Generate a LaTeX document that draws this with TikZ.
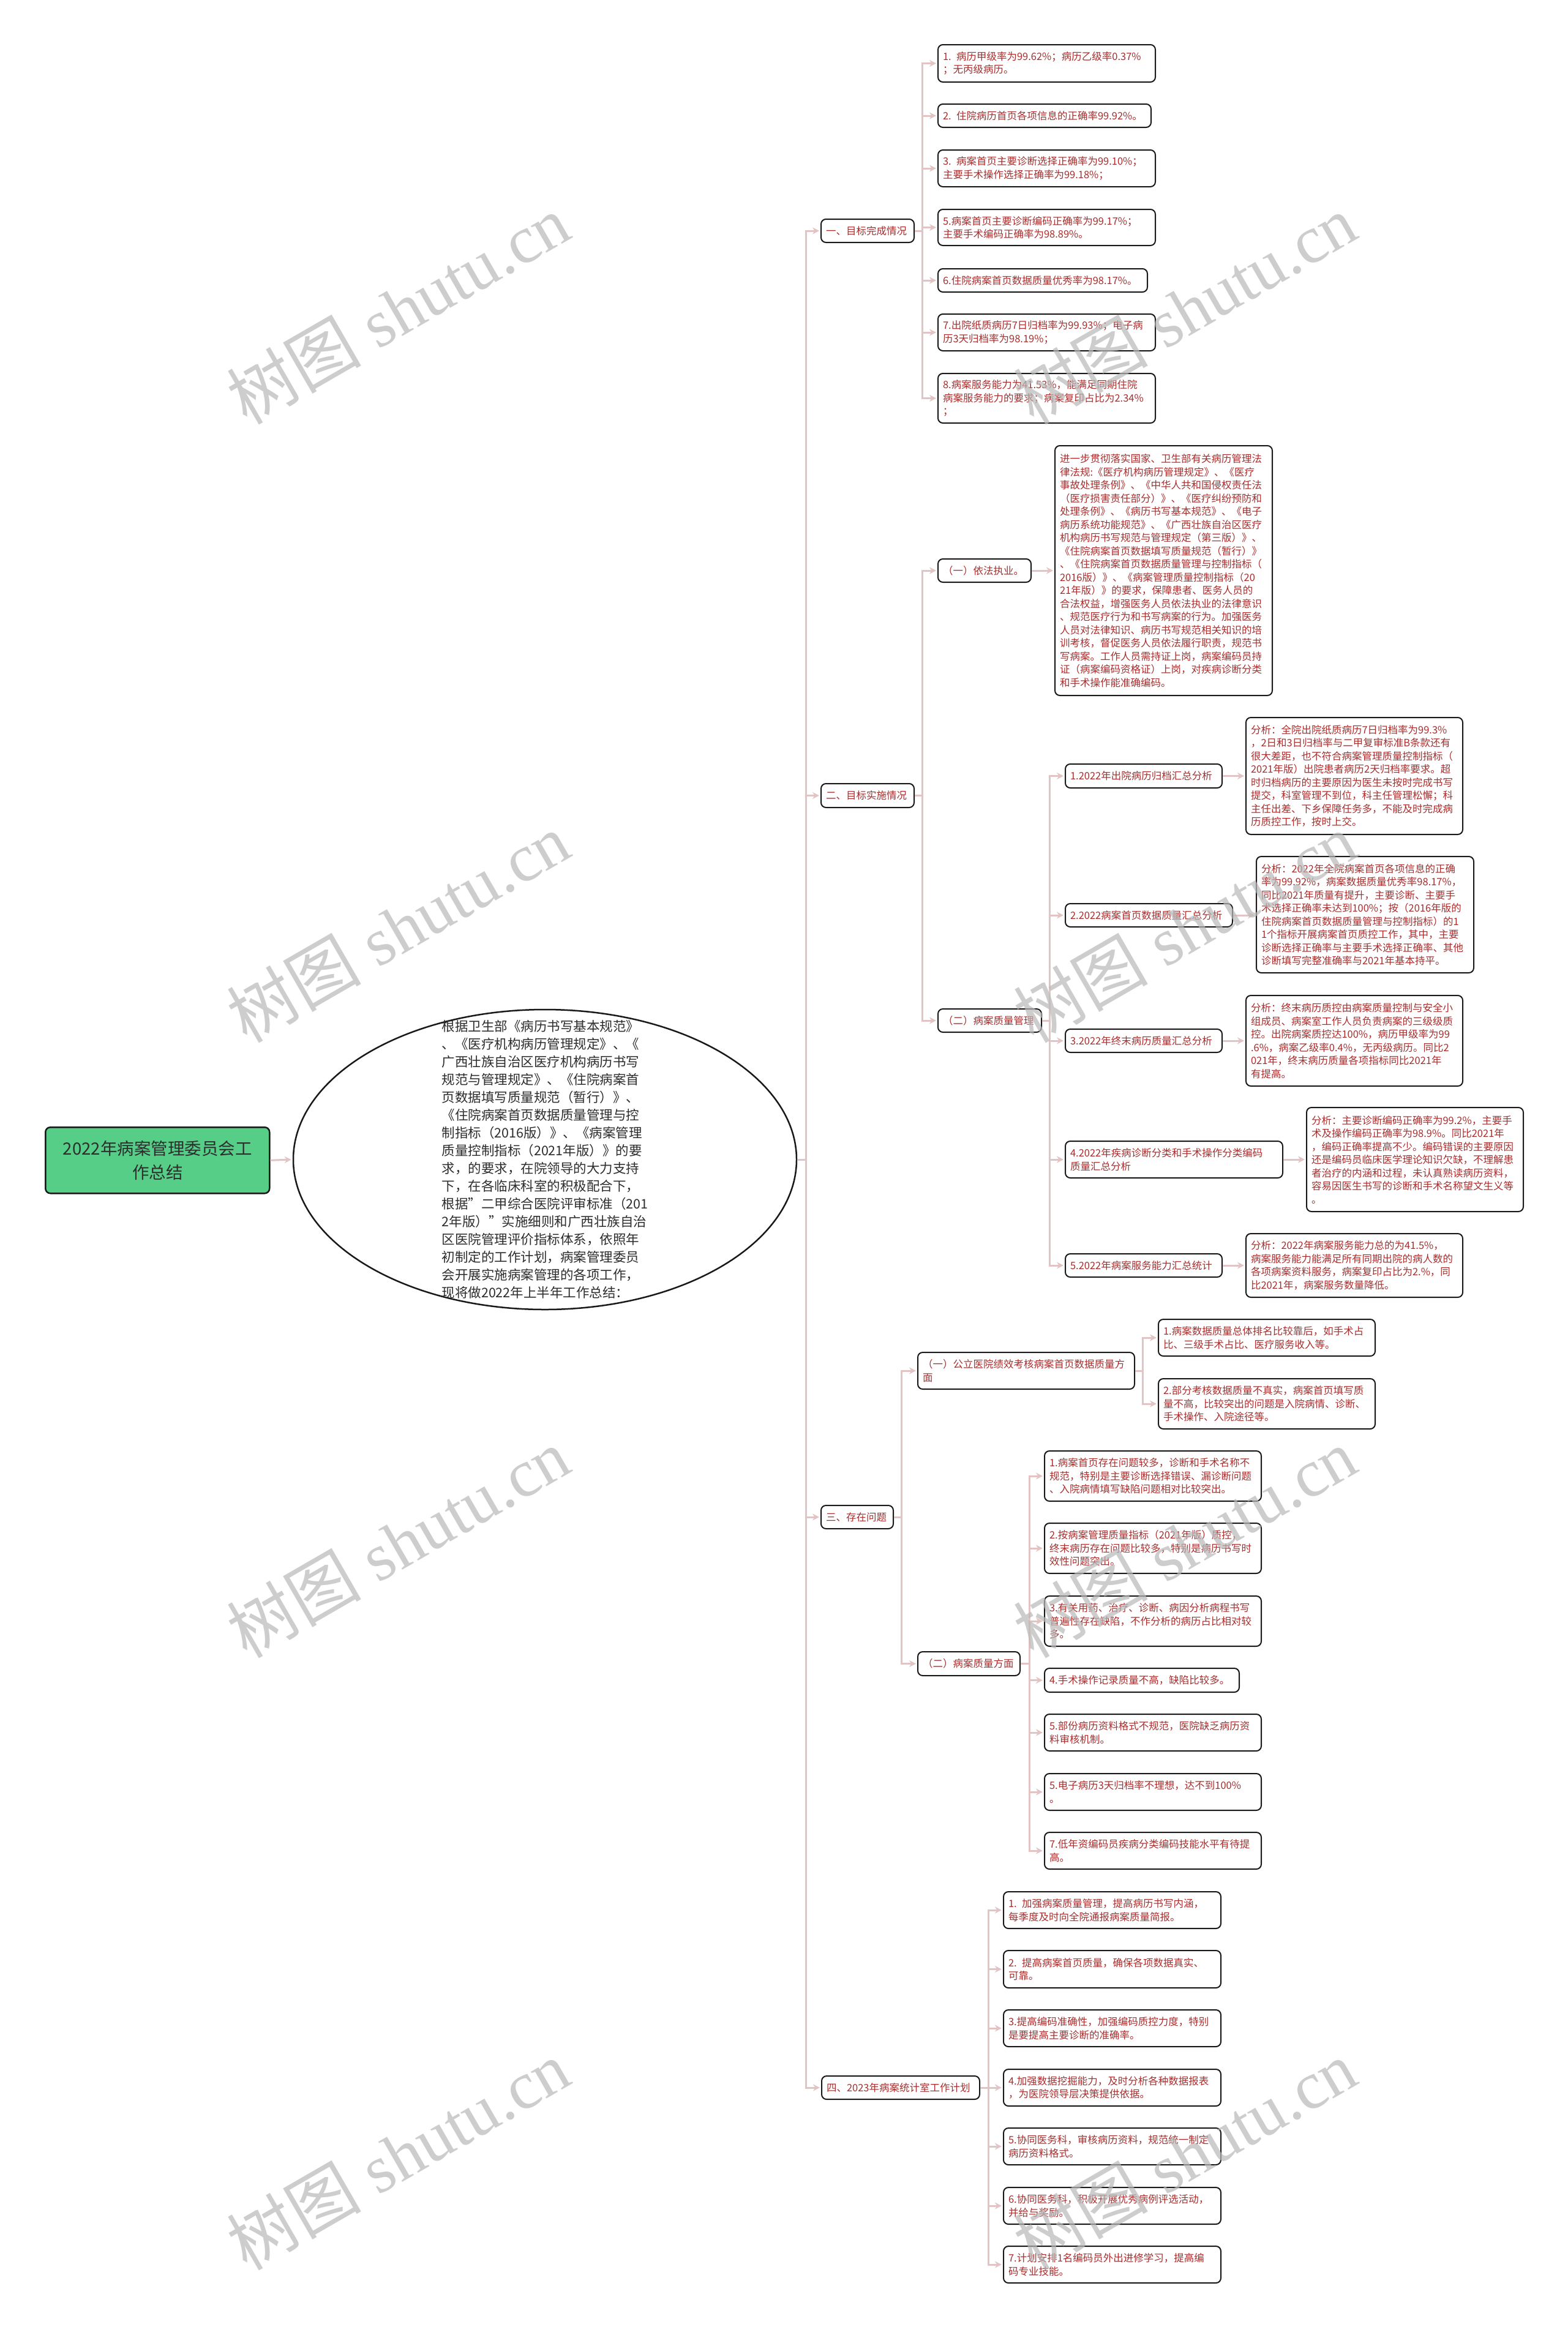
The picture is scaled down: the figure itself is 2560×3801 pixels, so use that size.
\documentclass[tikz,border=0pt]{standalone}
\usepackage{fontspec}
\setmainfont{Noto Sans CJK SC}
\newfontfamily\wmlatin{Liberation Serif}
\usetikzlibrary{shapes.geometric,arrows.meta}
\definecolor{linkc}{RGB}{227,196,196}
\definecolor{txtred}{RGB}{168,46,46}
\definecolor{rootg}{RGB}{86,206,136}
\definecolor{bordc}{RGB}{25,25,25}
\definecolor{wmc}{RGB}{185,185,185}
\definecolor{elltxt}{RGB}{45,45,45}
\tikzset{
  box/.style={draw=bordc,line width=2pt,rounded corners=8pt,fill=white,text=txtred,
    font=\fontsize{16.5}{21.5}\selectfont,align=left,inner xsep=8pt,inner ysep=2pt,anchor=north west},
  rootbox/.style={draw=bordc,line width=2.5pt,rounded corners=8pt,fill=rootg,text=elltxt,
    font=\fontsize{27.5}{39}\selectfont,align=center,anchor=north west},
  conn/.style={draw=linkc,line width=3pt,-{Stealth[length=11pt,width=11pt]},shorten >=2pt},
  wm/.style={rotate=30,text=wmc,font=\fontsize{110}{110}\selectfont,text opacity=0.7,inner sep=0pt}
}
\newcommand\bx[7]{\node[box,minimum width=#4pt,text width=#5pt,minimum height=#6pt] (#1) at (#2,#3) {#7};}
\begin{document}
\begin{tikzpicture}[x=1pt,y=-1pt]
\useasboundingbox (0,0) rectangle (2560,3801);
\fill[white] (0,0) rectangle (2560,3801);

% vertical connector lines x
\coordinate (tr) at (1316,0);
\coordinate (v1) at (1506,0);
\coordinate (v2) at (1506,0);
\coordinate (v22) at (1714,0);
\coordinate (v3) at (1472,0);
\coordinate (v31) at (1866,0);
\coordinate (v32) at (1681,0);
\coordinate (v4) at (1614,0);

% root and ellipse
\node[rootbox,minimum width=366pt,minimum height=108pt] (root) at (73,1840) {2022年病案管理委员会工\\作总结};
\node[ellipse,draw=bordc,line width=2.5pt,fill=white,minimum width=822pt,minimum height=490pt,inner sep=0pt] (ell) at (890,1894) {};
\node[font=\fontsize{21.5}{29}\selectfont,text=elltxt,align=left] (elltext) at (890,1894) {根据卫生部《病历书写基本规范》\\、《医疗机构病历管理规定》、《\\广西壮族自治区医疗机构病历书写\\规范与管理规定》、《住院病案首\\页数据填写质量规范（暂行）》、\\《住院病案首页数据质量管理与控\\制指标（2016版）》、《病案管理\\质量控制指标（2021年版）》的要\\求，的要求，在院领导的大力支持\\下，在各临床科室的积极配合下，\\根据"二甲综合医院评审标准（201\\2年版）"实施细则和广西壮族自治\\区医院管理评价指标体系，依照年\\初制定的工作计划，病案管理委员\\会开展实施病案管理的各项工作，\\现将做2022年上半年工作总结：};

% level 1
\bx{n1}{1340}{357}{152}{136}{38}{一、目标完成情况}
\bx{n2}{1340}{1279}{152}{136}{39}{二、目标实施情况}
\bx{n3}{1340}{2458}{118}{102}{38}{三、存在问题}
\bx{n4}{1341}{3390}{258}{242}{38}{四、2023年病案统计室工作计划}

% section one
\bx{i1}{1531}{72}{355}{339}{61}{1. 病历甲级率为99.62\%；病历乙级率0.37\%\\；无丙级病历。}
\bx{i2}{1531}{169}{348}{332}{38}{2. 住院病历首页各项信息的正确率99.92\%。}
\bx{i3}{1531}{244}{355}{339}{60}{3. 病案首页主要诊断选择正确率为99.10\%；\\主要手术操作选择正确率为99.18\%；}
\bx{i5}{1531}{341}{355}{339}{59}{5.病案首页主要诊断编码正确率为99.17\%；\\主要手术编码正确率为98.89\%。}
\bx{i6}{1531}{438}{342}{326}{38}{6.住院病案首页数据质量优秀率为98.17\%。}
\bx{i7}{1531}{512}{355}{339}{60}{7.出院纸质病历7日归档率为99.93\%；电子病\\历3天归档率为98.19\%；}
\bx{i8}{1531}{609}{355}{339}{81}{8.病案服务能力为41.53\%，能满足同期住院\\病案服务能力的要求；病案复印占比为2.34\%\\；}

% section two
\bx{a1}{1531}{912}{152}{136}{38}{（一）依法执业。}
\bx{abig}{1722}{727}{355}{339}{408}{进一步贯彻落实国家、卫生部有关病历管理法\\律法规:《医疗机构病历管理规定》、《医疗\\事故处理条例》、《中华人共和国侵权责任法\\（医疗损害责任部分）》、《医疗纠纷预防和\\处理条例》、《病历书写基本规范》、《电子\\病历系统功能规范》、《广西壮族自治区医疗\\机构病历书写规范与管理规定（第三版）》、\\《住院病案首页数据填写质量规范（暂行）》\\、《住院病案首页数据质量管理与控制指标（\\2016版）》、《病案管理质量控制指标（20\\21年版）》的要求，保障患者、医务人员的\\合法权益，增强医务人员依法执业的法律意识\\、规范医疗行为和书写病案的行为。加强医务\\人员对法律知识、病历书写规范相关知识的培\\训考核，督促医务人员依法履行职责，规范书\\写病案。工作人员需持证上岗，病案编码员持\\证（病案编码资格证）上岗，对疾病诊断分类\\和手术操作能准确编码。}
\bx{b0}{1531}{1647}{169}{153}{38}{（二）病案质量管理}
\bx{b1}{1739}{1247}{256}{240}{39}{1.2022年出院病历归档汇总分析}
\bx{r1}{2034}{1171}{354}{338}{191}{分析：全院出院纸质病历7日归档率为99.3\%\\，2日和3日归档率与二甲复审标准B条款还有\\很大差距，也不符合病案管理质量控制指标（\\2021年版）出院患者病历2天归档率要求。超\\时归档病历的主要原因为医生未按时完成书写\\提交，科室管理不到位，科主任管理松懈；科\\主任出差、下乡保障任务多，不能及时完成病\\历质控工作，按时上交。}
\bx{b2}{1739}{1475}{273}{257}{38}{2.2022病案首页数据质量汇总分析}
\bx{r2}{2051}{1398}{355}{339}{190}{分析：2022年全院病案首页各项信息的正确\\率为99.92\%，病案数据质量优秀率98.17\%，\\同比2021年质量有提升，主要诊断、主要手\\术选择正确率未达到100\%；按（2016年版的\\住院病案首页数据质量管理与控制指标）的1\\1个指标开展病案首页质控工作，其中，主要\\诊断选择正确率与主要手术选择正确率、其他\\诊断填写完整准确率与2021年基本持平。}
\bx{b3}{1739}{1680}{256}{240}{38}{3.2022年终末病历质量汇总分析}
\bx{r3}{2034}{1625}{354}{338}{148}{分析：终末病历质控由病案质量控制与安全小\\组成员、病案室工作人员负责病案的三级级质\\控。出院病案质控达100\%，病历甲级率为99\\.6\%，病案乙级率0.4\%，无丙级病历。同比2\\021年，终末病历质量各项指标同比2021年\\有提高。}
\bx{b4}{1739}{1863}{355}{339}{60}{4.2022年疾病诊断分类和手术操作分类编码\\质量汇总分析}
\bx{r4}{2133}{1808}{354}{338}{170}{分析：主要诊断编码正确率为99.2\%，主要手\\术及操作编码正确率为98.9\%。同比2021年\\，编码正确率提高不少。编码错误的主要原因\\还是编码员临床医学理论知识欠缺，不理解患\\者治疗的内涵和过程，未认真熟读病历资料，\\容易因医生书写的诊断和手术名称望文生义等\\。}
\bx{b5}{1739}{2047}{256}{240}{38}{5.2022年病案服务能力汇总统计}
\bx{r5}{2034}{2014}{354}{338}{104}{分析：2022年病案服务能力总的为41.5\%，\\病案服务能力能满足所有同期出院的病人数的\\各项病案资料服务，病案复印占比为2.\%，同\\比2021年，病案服务数量降低。}

% section three
\bx{c1}{1498}{2208}{354}{338}{60}{（一）公立医院绩效考核病案首页数据质量方\\面}
\bx{c11}{1891}{2154}{354}{338}{60}{1.病案数据质量总体排名比较靠后，如手术占\\比、三级手术占比、医疗服务收入等。}
\bx{c12}{1891}{2251}{354}{338}{82}{2.部分考核数据质量不真实，病案首页填写质\\量不高，比较突出的问题是入院病情、诊断、\\手术操作、入院途径等。}
\bx{c2}{1498}{2697}{167}{151}{39}{（二）病案质量方面}
\bx{c21}{1705}{2369}{354}{338}{82}{1.病案首页存在问题较多，诊断和手术名称不\\规范，特别是主要诊断选择错误、漏诊断问题\\、入院病情填写缺陷问题相对比较突出。}
\bx{c22}{1705}{2487}{354}{338}{82}{2.按病案管理质量指标（2021年版）质控，\\终末病历存在问题比较多，特别是病历书写时\\效性问题突出。}
\bx{c23}{1705}{2606}{354}{338}{82}{3.有关用药、治疗、诊断、病因分析病程书写\\普遍性存在缺陷，不作分析的病历占比相对较\\多。}
\bx{c24}{1705}{2724}{318}{302}{39}{4.手术操作记录质量不高，缺陷比较多。}
\bx{c25}{1705}{2799}{354}{338}{60}{5.部份病历资料格式不规范，医院缺乏病历资\\料审核机制。}
\bx{c26}{1705}{2896}{354}{338}{60}{5.电子病历3天归档率不理想，达不到100\%\\。}
\bx{c27}{1705}{2992}{354}{338}{60}{7.低年资编码员疾病分类编码技能水平有待提\\高。}

% section four
\bx{d1}{1638}{3089}{355}{339}{60}{1. 加强病案质量管理，提高病历书写内涵，\\每季度及时向全院通报病案质量简报。}
\bx{d2}{1638}{3185}{355}{339}{61}{2. 提高病案首页质量，确保各项数据真实、\\可靠。}
\bx{d3}{1638}{3282}{355}{339}{60}{3.提高编码准确性，加强编码质控力度，特别\\是要提高主要诊断的准确率。}
\bx{d4}{1638}{3379}{355}{339}{60}{4.加强数据挖掘能力，及时分析各种数据报表\\，为医院领导层决策提供依据。}
\bx{d5}{1638}{3475}{355}{339}{60}{5.协同医务科，审核病历资料，规范统一制定\\病历资料格式。}
\bx{d6}{1638}{3572}{355}{339}{60}{6.协同医务科，积极开展优秀病例评选活动，\\并给与奖励。}
\bx{d7}{1638}{3668}{355}{339}{60}{7.计划安排1名编码员外出进修学习，提高编\\码专业技能。}

% connectors
\draw[conn] (root.east) -- (ell.west);
\foreach \q in {n1,n2,n3,n4} \draw[conn] (ell.east) -- (ell.east -| tr) |- (\q.west);
\foreach \q in {i1,i2,i3,i5,i6,i7,i8} \draw[conn] (n1.east) -- (n1.east -| v1) |- (\q.west);
\foreach \q in {a1,b0} \draw[conn] (n2.east) -- (n2.east -| v2) |- (\q.west);
\draw[conn] (a1.east) -- (a1.east -| abig.west);
\foreach \q in {b1,b2,b3,b4,b5} \draw[conn] (b0.east) -- (b0.east -| v22) |- (\q.west);
\draw[conn] (b1.east) -- (b1.east -| r1.west);
\draw[conn] (b2.east) -- (b2.east -| r2.west);
\draw[conn] (b3.east) -- (b3.east -| r3.west);
\draw[conn] (b4.east) -- (b4.east -| r4.west);
\draw[conn] (b5.east) -- (b5.east -| r5.west);
\foreach \q in {c1,c2} \draw[conn] (n3.east) -- (n3.east -| v3) |- (\q.west);
\foreach \q in {c11,c12} \draw[conn] (c1.east) -- (c1.east -| v31) |- (\q.west);
\foreach \q in {c21,c22,c23,c24,c25,c26,c27} \draw[conn] (c2.east) -- (c2.east -| v32) |- (\q.west);
\foreach \q in {d1,d2,d3,d4,d5,d6,d7} \draw[conn] (n4.east) -- (n4.east -| v4) |- (\q.west);

% watermarks
\node[wm] (wm1) at (650,505) {树图\hspace{0.25em}{\wmlatin shutu.cn}};
\node[wm] (wm2) at (1935,505) {树图\hspace{0.25em}{\wmlatin shutu.cn}};
\node[wm] (wm3) at (650,1515) {树图\hspace{0.25em}{\wmlatin shutu.cn}};
\node[wm] (wm4) at (1935,1515) {树图\hspace{0.25em}{\wmlatin shutu.cn}};
\node[wm] (wm5) at (650,2520) {树图\hspace{0.25em}{\wmlatin shutu.cn}};
\node[wm] (wm6) at (1935,2520) {树图\hspace{0.25em}{\wmlatin shutu.cn}};
\node[wm] (wm7) at (650,3520) {树图\hspace{0.25em}{\wmlatin shutu.cn}};
\node[wm] (wm8) at (1935,3520) {树图\hspace{0.25em}{\wmlatin shutu.cn}};
\end{tikzpicture}
\end{document}
